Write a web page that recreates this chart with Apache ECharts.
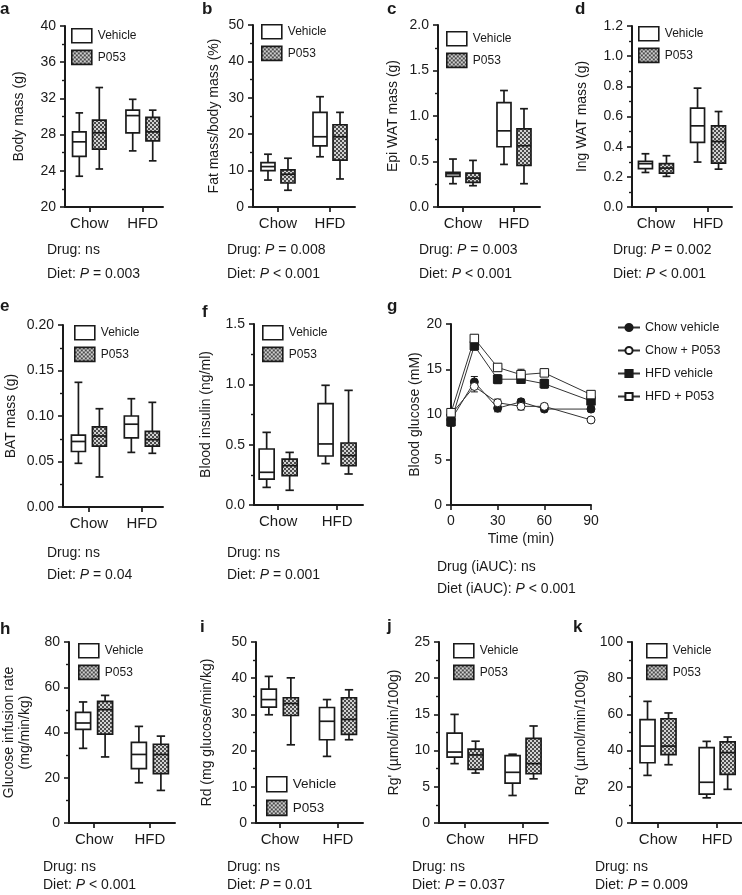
<!DOCTYPE html>
<html><head><meta charset="utf-8">
<script src="https://cdn.jsdelivr.net/npm/echarts@6/dist/echarts.min.js"></script>
<style>html,body{margin:0;padding:0;background:#fff}#c{width:742px;height:895px}</style>
</head><body><div id="c"></div>
<script>
// ---------------- DATA ----------------
const groups = ['Chow', 'HFD'];
// box stats: [min, Q1, median, Q3, max]; row 0 = Chow, row 1 = HFD
const bodyMassVeh  = [[23.4, 25.6, 27.2, 28.3, 30.4], [26.2, 28.2, 30.1, 30.7, 31.9]];
const bodyMassP053 = [[24.2, 26.4, 28.2, 29.6, 33.2], [25.1, 27.3, 28.3, 29.9, 30.7]];
const fatPctVeh    = [[7.4, 10.0, 11.1, 12.2, 14.5], [13.8, 16.8, 19.3, 26.0, 30.3]];
const fatPctP053   = [[4.6, 6.6, 9.0, 10.2, 13.4], [7.7, 12.9, 19.3, 22.6, 26.0]];
const epiWatVeh    = [[0.256, 0.336, 0.365, 0.38, 0.527], [0.468, 0.662, 0.837, 1.148, 1.28]];
const epiWatP053   = [[0.234, 0.27, 0.318, 0.373, 0.512], [0.256, 0.457, 0.673, 0.859, 1.08]];
const ingWatVeh    = [[0.229, 0.254, 0.287, 0.302, 0.353], [0.298, 0.428, 0.538, 0.655, 0.788]];
const ingWatP053   = [[0.203, 0.225, 0.258, 0.287, 0.340], [0.251, 0.291, 0.434, 0.538, 0.633]];
const batVeh       = [[0.048, 0.061, 0.072, 0.079, 0.137], [0.060, 0.076, 0.091, 0.100, 0.119]];
const batP053      = [[0.033, 0.067, 0.078, 0.088, 0.108], [0.059, 0.067, 0.074, 0.083, 0.115]];
const insulinVeh   = [[0.146, 0.215, 0.271, 0.464, 0.602], [0.343, 0.406, 0.506, 0.840, 0.992]];
const insulinP053  = [[0.122, 0.243, 0.326, 0.381, 0.436], [0.257, 0.326, 0.409, 0.514, 0.950]];
const girVeh       = [[33.0, 41.4, 44.2, 48.9, 53.5], [17.8, 24.0, 30.3, 35.6, 42.7]];
const girP053      = [[29.2, 39.3, 50.1, 53.8, 56.4], [14.4, 21.8, 30.3, 34.8, 38.4]];
const rdVeh        = [[29.9, 32.0, 34.1, 37.0, 40.5], [18.4, 23.0, 28.1, 31.9, 34.1]];
const rdP053       = [[21.6, 29.7, 33.0, 34.6, 40.1], [23.0, 24.5, 28.6, 34.6, 36.8]];
const rgJVeh       = [[8.2, 9.1, 9.8, 12.4, 15.0], [3.8, 5.5, 7.0, 9.3, 9.5]];
const rgJP053      = [[6.9, 7.4, 9.4, 10.2, 11.3], [6.1, 6.8, 8.2, 11.7, 13.4]];
const rgKVeh       = [[26.3, 33.3, 42.5, 57.1, 67.2], [13.9, 16.0, 22.5, 41.6, 45.1]];
const rgKP053      = [[32.2, 37.8, 42.5, 57.6, 60.8], [18.6, 26.9, 38.9, 44.8, 47.5]];

const gttTimes     = [0, 15, 30, 45, 60, 90];
const gttChowVeh   = [9.4, 13.6, 10.7, 11.4, 10.6, 10.6];
const gttChowP053  = [10.0, 13.1, 11.3, 10.9, 10.9, 9.4];
const gttHfdVeh    = [9.2, 17.6, 13.9, 13.9, 13.4, 11.5];
const gttHfdP053   = [10.2, 18.4, 15.2, 14.4, 14.6, 12.2];
const gttChowVehSem  = [0.4, 0.6, 0.4, 0.3, 0.3, 0.3];
const gttChowP053Sem = [0.4, 0.6, 0.4, 0.4, 0.3, 0.2];
const gttHfdVehSem   = [0.5, 0.5, 0.5, 0.4, 0.5, 0.4];
const gttHfdP053Sem  = [0.3, 0.4, 0.4, 0.6, 0.4, 0.4];
const gttNames = ['Chow vehicle', 'Chow + P053', 'HFD vehicle', 'HFD + P053'];

const statTexts = {
  a: ['Drug: ns', 'Diet: {i|P} = 0.003'],
  b: ['Drug: {i|P} = 0.008', 'Diet: {i|P} < 0.001'],
  c: ['Drug: {i|P} = 0.003', 'Diet: {i|P} < 0.001'],
  d: ['Drug: {i|P} = 0.002', 'Diet: {i|P} < 0.001'],
  e: ['Drug: ns', 'Diet: {i|P} = 0.04'],
  f: ['Drug: ns', 'Diet: {i|P} = 0.001'],
  g: ['Drug (iAUC): ns', 'Diet (iAUC): {i|P} < 0.001'],
  h: ['Drug: ns', 'Diet: {i|P} < 0.001'],
  i: ['Drug: ns', 'Diet: {i|P} = 0.01'],
  j: ['Drug: ns', 'Diet: {i|P} = 0.037'],
  k: ['Drug: ns', 'Diet: {i|P} = 0.009']
};

// ---------------- LAYOUT ----------------
const FONT = 'Liberation Sans, Arial, Helvetica, sans-serif';
const INK = '#1a1a1a';

const pc = document.createElement('canvas'); pc.width = 4; pc.height = 4;
const pctx = pc.getContext('2d');
pctx.fillStyle = '#d2d2d2'; pctx.fillRect(0, 0, 4, 4);
pctx.fillStyle = '#4a4a4a'; pctx.fillRect(0, 0, 2, 2); pctx.fillRect(2, 2, 2, 2);
const PAT = { image: pc, repeat: 'repeat' };

const PANELS = [
  { id: 'a', g: [65, 26, 98, 181],  y: [20, 40, 4], dec: 0, x: [-0.455, 1.38], name: 'Body mass (g)', gap: 38, veh: bodyMassVeh, p53: bodyMassP053, lg: [71, 28, 12], st: [47, 250, 274], lt: [0, 9], off: 10, bw: 13.5 },
  { id: 'b', g: [253, 25, 102, 182], y: [0, 50, 10], dec: 0, x: [-0.48, 1.48], name: 'Fat mass/body mass (%)', gap: 31, veh: fatPctVeh, p53: fatPctP053, lg: [261, 24, 12], st: [227, 250, 274], lt: [202, 9], off: 10, bw: 14 },
  { id: 'c', g: [438, 25, 102, 182], y: [0, 2, 0.5], dec: 1, x: [-0.49, 1.51], name: 'Epi WAT mass (g)', gap: 37, veh: epiWatVeh, p53: epiWatP053, lg: [446, 31, 12], st: [419, 250, 274], lt: [387, 9], off: 10, bw: 14 },
  { id: 'd', g: [632, 26, 100, 181], y: [0, 1.2, 0.2], dec: 1, x: [-0.46, 1.46], name: 'Ing WAT mass (g)', gap: 42, veh: ingWatVeh, p53: ingWatP053, lg: [638, 26, 12], st: [613, 250, 274], lt: [575, 9], off: 10.5, bw: 14 },
  { id: 'e', g: [63, 325, 100, 182], y: [0, 0.2, 0.05], dec: 2, x: [-0.49, 1.40], name: 'BAT mass (g)', gap: 44, veh: batVeh, p53: batP053, lg: [74, 325, 12], st: [47, 553, 575], lt: [0, 306], off: 10.5, bw: 14 },
  { id: 'f', g: [254, 324, 109, 181], y: [0, 1.5, 0.5], dec: 1, x: [-0.41, 1.44], name: 'Blood insulin (ng/ml)', gap: 40, veh: insulinVeh, p53: insulinP053, lg: [262, 325, 12], st: [227, 553, 575], lt: [202, 312], off: 11.5, bw: 15 },
  { id: 'h', g: [65, 642, 110, 181], y: [0, 80, 20], dec: 0, x: [-0.45, 1.45], name: 'Glucose infusion rate\n(mg/min/kg)', gap: 36, veh: girVeh, p53: girP053, lg: [78, 643, 12], st: [43, 867, 885], lt: [0, 629], off: 11, bw: 15 },
  { id: 'i', g: [256, 642, 107, 181], y: [0, 50, 10], dec: 0, x: [-0.41, 1.43], name: 'Rd (mg glucose/min/kg)', gap: 41, veh: rdVeh, p53: rdP053, lg: [266, 776, 13.5], st: [227, 867, 885], lt: [200, 627], off: 11, bw: 15 },
  { id: 'j', g: [439, 642, 109, 181], y: [0, 25, 5], dec: 0, x: [-0.45, 1.43], name: "Rg' (µmol/min/100g)", gap: 37, veh: rgJVeh, p53: rgJP053, lg: [453, 643, 12], st: [412, 867, 885], lt: [387, 626], off: 10.5, bw: 15 },
  { id: 'k', g: [632, 642, 110, 181], y: [0, 100, 20], dec: 0, x: [-0.44, 1.42], name: "Rg' (µmol/min/100g)", gap: 43, veh: rgKVeh, p53: rgKP053, lg: [646, 643, 12], st: [595, 867, 885], lt: [573, 627], off: 10.5, bw: 15 }
];
const G_PANEL = { id: 'g', g: [451, 324, 140, 181], st: [437, 567, 589], lt: [387, 306] };

function makeBox(offset, width, fill) {
  return function (params, api) {
    const cat = api.value(0);
    const cx = api.coord([cat, api.value(3)])[0] + offset;
    const py = k => api.coord([cat, api.value(k)])[1];
    const yMin = py(1), yQ1 = py(2), yMed = py(3), yQ3 = py(4), yMax = py(5);
    const half = width / 2, cap = width * 0.28;
    const ls = { stroke: INK, lineWidth: 1.7 };
    return { type: 'group', children: [
      { type: 'line', shape: { x1: cx, y1: yMax, x2: cx, y2: yQ3 }, style: ls },
      { type: 'line', shape: { x1: cx, y1: yQ1, x2: cx, y2: yMin }, style: ls },
      { type: 'line', shape: { x1: cx - cap, y1: yMax, x2: cx + cap, y2: yMax }, style: ls },
      { type: 'line', shape: { x1: cx - cap, y1: yMin, x2: cx + cap, y2: yMin }, style: ls },
      { type: 'rect', shape: { x: cx - half, y: yQ3, width: width, height: yQ1 - yQ3 }, style: { fill: fill, stroke: INK, lineWidth: 1.7 } },
      { type: 'line', shape: { x1: cx - half, y1: yMed, x2: cx + half, y2: yMed }, style: ls }
    ] };
  };
}

function errRender(params, api) {
  const t = api.value(0), m = api.value(1), s = api.value(2);
  const top = api.coord([t, m + s]), bot = api.coord([t, m - s]);
  const x = top[0], c = 3.5, st = { stroke: INK, lineWidth: 1 };
  return { type: 'group', children: [
    { type: 'line', shape: { x1: x, y1: top[1], x2: x, y2: bot[1] }, style: st },
    { type: 'line', shape: { x1: x - c, y1: top[1], x2: x + c, y2: top[1] }, style: st },
    { type: 'line', shape: { x1: x - c, y1: bot[1], x2: x + c, y2: bot[1] }, style: st }
  ] };
}

const axisLineStyle = { color: INK, width: 2 };
const grids = [], xAxes = [], yAxes = [], series = [], legends = [], graphics = [];

function statText(x, y, text) {
  return { type: 'text', x: x, y: y, style: { text: text, fontSize: 14, fontFamily: FONT, fill: INK, verticalAlign: 'middle',
    rich: { i: { fontStyle: 'italic', fontSize: 14, fontFamily: FONT, fill: INK } } } };
}
function letter(p) {
  return { type: 'text', x: p.lt[0], y: p.lt[1], style: { text: p.id, fontSize: 17, fontWeight: 'bold', fontFamily: FONT, fill: INK, verticalAlign: 'middle' } };
}

PANELS.forEach((p, idx) => {
  grids.push({ left: p.g[0], top: p.g[1], width: p.g[2], height: p.g[3] });
  xAxes.push({
    gridIndex: idx, type: 'value', min: p.x[0], max: p.x[1],
    axisLine: { show: true, onZero: false, lineStyle: axisLineStyle },
    axisTick: { show: true, customValues: [0, 1], length: 5, lineStyle: { color: INK, width: 1.7 } },
    axisLabel: { customValues: [0, 1], formatter: v => groups[Math.round(v)] || '', fontSize: 15, color: INK, margin: 9, fontFamily: FONT },
    splitLine: { show: false }
  });
  yAxes.push({
    gridIndex: idx, type: 'value', min: p.y[0], max: p.y[1], interval: p.y[2],
    axisLine: { show: true, onZero: false, lineStyle: axisLineStyle },
    axisTick: { show: true, length: 5, lineStyle: { color: INK, width: 1.6 } },
    minorTick: { show: true, splitNumber: 2, length: 3, lineStyle: { color: INK, width: 1.4 } },
    axisLabel: { fontSize: 14, color: INK, margin: 9, fontFamily: FONT, formatter: v => v.toFixed(p.dec) },
    splitLine: { show: false },
    name: p.name, nameLocation: 'middle', nameGap: p.gap,
    nameTextStyle: { fontSize: 14, color: INK, fontFamily: FONT, lineHeight: 16 }
  });
  series.push({
    type: 'custom', name: 'Vehicle', xAxisIndex: idx, yAxisIndex: idx,
    renderItem: makeBox(-p.off, p.bw, '#fff'), encode: { x: 0, y: [1, 2, 3, 4, 5] },
    data: p.veh.map((r, gi) => [gi].concat(r)), silent: true
  });
  series.push({
    type: 'custom', name: 'P053', xAxisIndex: idx, yAxisIndex: idx,
    renderItem: makeBox(p.off, p.bw, PAT), encode: { x: 0, y: [1, 2, 3, 4, 5] },
    data: p.p53.map((r, gi) => [gi].concat(r)), silent: true
  });
  const fs = p.lg[2];
  const ih = fs > 12 ? 15 : 14;
  legends.push({
    left: p.lg[0], top: p.lg[1], orient: 'vertical', padding: 0, selectedMode: false,
    itemWidth: 20, itemHeight: ih, itemGap: fs > 12 ? 7 : 6,
    textStyle: { fontSize: fs, color: INK, fontFamily: FONT, padding: [0, 0, 0, 1] },
    data: [
      { name: 'Vehicle', icon: 'rect', itemStyle: { color: '#fff', borderColor: INK, borderWidth: 1.6 } },
      { name: 'P053', icon: 'rect', itemStyle: { color: PAT, borderColor: INK, borderWidth: 1.6 } }
    ]
  });
  graphics.push(letter(p), statText(p.st[0], p.st[1], statTexts[p.id][0]), statText(p.st[0], p.st[2], statTexts[p.id][1]));
});

// ---- panel g (line chart) ----
const gi = PANELS.length;
grids.push({ left: G_PANEL.g[0], top: G_PANEL.g[1], width: G_PANEL.g[2], height: G_PANEL.g[3] });
xAxes.push({
  gridIndex: gi, type: 'value', min: 0, max: 90, interval: 30,
  axisLine: { show: true, onZero: false, lineStyle: axisLineStyle },
  axisTick: { show: true, length: 5, lineStyle: { color: INK, width: 1.6 } },
  axisLabel: { fontSize: 14, color: INK, margin: 9, fontFamily: FONT },
  splitLine: { show: false },
  name: 'Time (min)', nameLocation: 'middle', nameGap: 27, nameTextStyle: { fontSize: 14, color: INK, fontFamily: FONT }
});
yAxes.push({
  gridIndex: gi, type: 'value', min: 0, max: 20, interval: 5,
  axisLine: { show: true, onZero: false, lineStyle: axisLineStyle },
  axisTick: { show: true, length: 5, lineStyle: { color: INK, width: 1.6 } },
  axisLabel: { fontSize: 14, color: INK, margin: 9, fontFamily: FONT },
  splitLine: { show: false },
  name: 'Blood glucose (mM)', nameLocation: 'middle', nameGap: 27, nameTextStyle: { fontSize: 14, color: INK, fontFamily: FONT }
});
const gttSets = [
  { mean: gttChowVeh,  sem: gttChowVehSem,  symbol: 'circle', fill: INK },
  { mean: gttChowP053, sem: gttChowP053Sem, symbol: 'circle', fill: '#fff' },
  { mean: gttHfdVeh,   sem: gttHfdVehSem,   symbol: 'rect',   fill: INK },
  { mean: gttHfdP053,  sem: gttHfdP053Sem,  symbol: 'rect',   fill: '#fff' }
];
gttSets.forEach((s, k) => {
  series.push({
    type: 'custom', name: 'err' + k, xAxisIndex: gi, yAxisIndex: gi, z: 1, silent: true,
    renderItem: errRender, encode: { x: 0, y: 1 },
    data: gttTimes.map((t, i) => [t, s.mean[i], s.sem[i]])
  });
});
gttSets.forEach((s, k) => {
  series.push({
    type: 'line', name: gttNames[k], xAxisIndex: gi, yAxisIndex: gi, z: 3, silent: true,
    data: gttTimes.map((t, i) => [t, s.mean[i]]),
    symbol: s.symbol, symbolSize: s.symbol === 'rect' ? 8.5 : 8, showAllSymbol: true,
    itemStyle: { color: s.fill, borderColor: INK, borderWidth: 1 },
    lineStyle: { color: '#333', width: 1 }
  });
});
legends.push({
  left: 617, top: 321, orient: 'vertical', padding: 0, selectedMode: false,
  itemWidth: 22, itemHeight: 9, itemGap: 10,
  textStyle: { fontSize: 12.5, color: INK, fontFamily: FONT },
  data: gttNames
});
graphics.push(letter(G_PANEL), statText(G_PANEL.st[0], G_PANEL.st[1], statTexts.g[0]), statText(G_PANEL.st[0], G_PANEL.st[2], statTexts.g[1]));

const chart = echarts.init(document.getElementById('c'));
chart.setOption({
  animation: false,
  backgroundColor: '#fff',
  textStyle: { fontFamily: FONT, color: INK },
  grid: grids, xAxis: xAxes, yAxis: yAxes, series: series, legend: legends, graphic: graphics
});
</script></body></html>
